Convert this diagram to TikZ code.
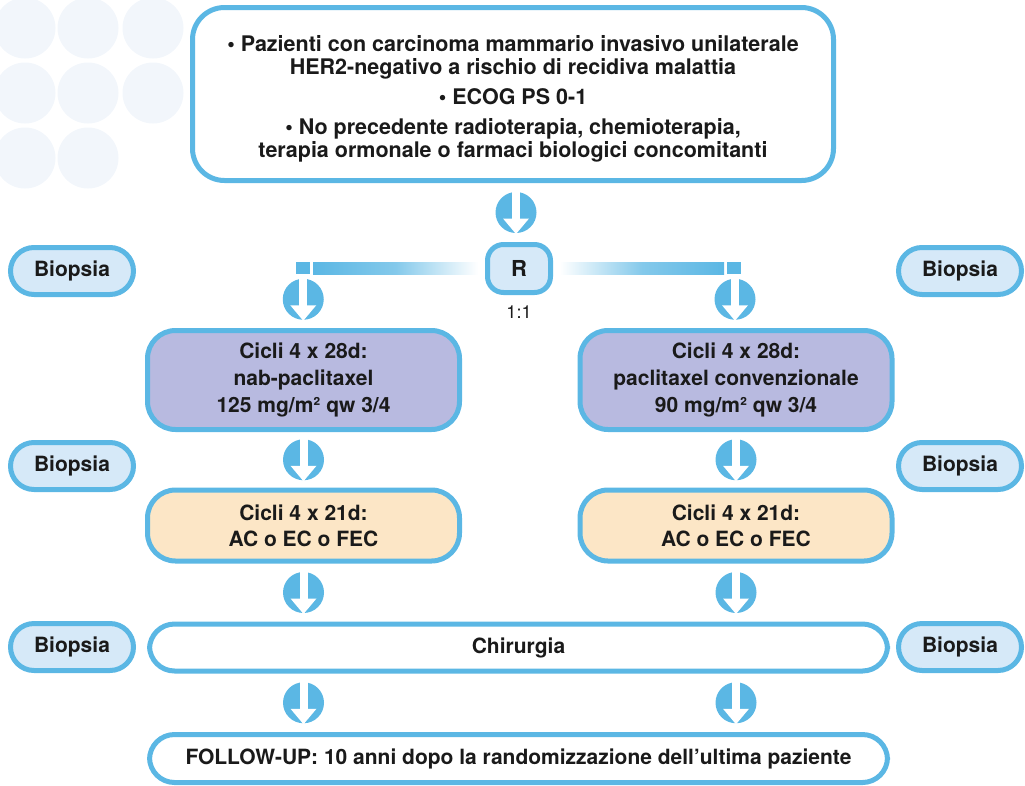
\documentclass[tikz,border=0pt]{standalone}
\usepackage{fontspec}
\setmainfont{TeX Gyre Heros}
\usetikzlibrary{shapes.misc,calc}
\definecolor{bblue}{HTML}{5BB7E4}
\definecolor{pillfill}{HTML}{D6E9F8}
\definecolor{lav}{HTML}{B8BAE0}
\definecolor{beige}{HTML}{FCE6C6}
\definecolor{bgcirc}{HTML}{F2F6FB}
\definecolor{txt}{HTML}{1A1A1A}
\newcommand\dnicon[1]{%
  \begin{scope}[shift={(#1)}]
    \fill[bblue] (0,0) circle (20.5);
    \fill[white] (-4,-21) rectangle (4,7);
    \fill[white] (-13,6) -- (13,6) -- (0,21.5) -- cycle;
  \end{scope}}
\tikzset{
  box/.style={draw=bblue, line width=5pt, align=center, inner sep=0pt, outer sep=0pt,
    text=txt, font=\bfseries\fontsize{21}{27}\selectfont},
  pill/.style={rounded rectangle, draw=bblue, line width=5pt, fill=pillfill, inner sep=0pt,
    outer sep=0pt, minimum width=123, minimum height=47, text=txt, font=\bfseries\fontsize{21}{25}\selectfont},
  colbox/.style={box, minimum width=312, rounded corners=28},
  widebox/.style={box, fill=white, minimum width=738, minimum height=47, rounded corners=25},
}
\begin{document}
\begin{tikzpicture}[x=1pt,y=-1pt]
\useasboundingbox (0,0) rectangle (1025,785);
% background circles
\foreach \cx/\cy in {25/28,88/28,153/28,25/93,88/93,153/93,25/158,88/158}
  \fill[bgcirc] (\cx,\cy) circle (30.5);
% top box
\node[box, fill=white, minimum width=641, minimum height=173, rounded corners=32,
  font=\bfseries\fontsize{21.5}{23}\selectfont] (top) at (513,94)
  {\rule{0pt}{26pt}• Pazienti con carcinoma mammario invasivo unilaterale\\
   HER2-negativo a rischio di recidiva malattia\\[7pt]
   • ECOG PS 0-1\\[7pt]
   • No precedente radioterapia, chemioterapia,\\
   terapia ormonale o farmaci biologici concomitanti};
% R box
\node[box, fill=pillfill, minimum width=63, minimum height=48, rounded corners=16,
  font=\bfseries\fontsize{22}{26}\selectfont] (R) at (519,268.5) {R};
\node[text=txt, font=\fontsize{18}{20}\selectfont, inner sep=0pt] (ratio) at (519,312) {1:1};
% bars
\coordinate (barL) at (303,268);
\coordinate (barR) at (734,268);
\fill[bblue] (296,262) rectangle (310,274);
\fill[bblue] (727,262) rectangle (741,274);
\shade[left color=bblue, right color=white, middle color=bblue!75] (313,262) rectangle (478,274);
\shade[left color=white, right color=bblue, middle color=bblue!75] (560,262) rectangle (724,274);
% column boxes
\node[colbox, fill=lav, minimum height=99] (pL) at (303.5,380)
  {Cicli 4 x 28d:\\ nab-paclitaxel\\ 125 mg/m² qw 3/4};
\node[colbox, fill=lav, minimum height=99] (pR) at (736,380)
  {Cicli 4 x 28d:\\ paclitaxel convenzionale\\ 90 mg/m² qw 3/4};
\node[colbox, fill=beige, minimum height=71, font=\bfseries\fontsize{21}{26}\selectfont] (bL) at (303.5,525.5)
  {Cicli 4 x 21d:\\ AC o EC o FEC};
\node[colbox, fill=beige, minimum height=71, font=\bfseries\fontsize{21}{26}\selectfont] (bR) at (736,525.5)
  {Cicli 4 x 21d:\\ AC o EC o FEC};
\node[widebox] (chir) at (518.5,647.5) {Chirurgia};
\node[widebox, minimum height=48] (fu) at (518.5,758.5)
  {FOLLOW-UP: 10 anni dopo la randomizzazione dell’ultima paziente};
% biopsy pills
\node[pill] (bx1L) at (72,271) {Biopsia};
\node[pill] (bx1R) at (960,271) {Biopsia};
\node[pill] (bx2L) at (72,466) {Biopsia};
\node[pill] (bx2R) at (960,466) {Biopsia};
\node[pill] (bx3L) at (72,647) {Biopsia};
\node[pill] (bx3R) at (960,647) {Biopsia};
% arrow icons (connectors)
\coordinate (i0) at ($(top.south)!.5!(R.north)$);
\dnicon{i0}
\coordinate (iL1) at ($(barL)!.5!(pL.north)$);
\coordinate (iR1) at ($(barR)!.5!(pR.north)$);
\dnicon{iL1} \dnicon{iR1}
\coordinate (iL2) at ($(pL.south)!.5!(bL.north)$);
\coordinate (iR2) at ($(pR.south)!.5!(bR.north)$);
\dnicon{iL2} \dnicon{iR2}
\coordinate (iL3) at ($(bL.south)!.5!(bL.south |- chir.north)$);
\coordinate (iR3) at ($(bR.south)!.5!(bR.south |- chir.north)$);
\dnicon{iL3} \dnicon{iR3}
\coordinate (iL4) at ($(bL.south |- chir.south)!.5!(bL.south |- fu.north)$);
\coordinate (iR4) at ($(bR.south |- chir.south)!.5!(bR.south |- fu.north)$);
\dnicon{iL4} \dnicon{iR4}
\end{tikzpicture}
\end{document}
